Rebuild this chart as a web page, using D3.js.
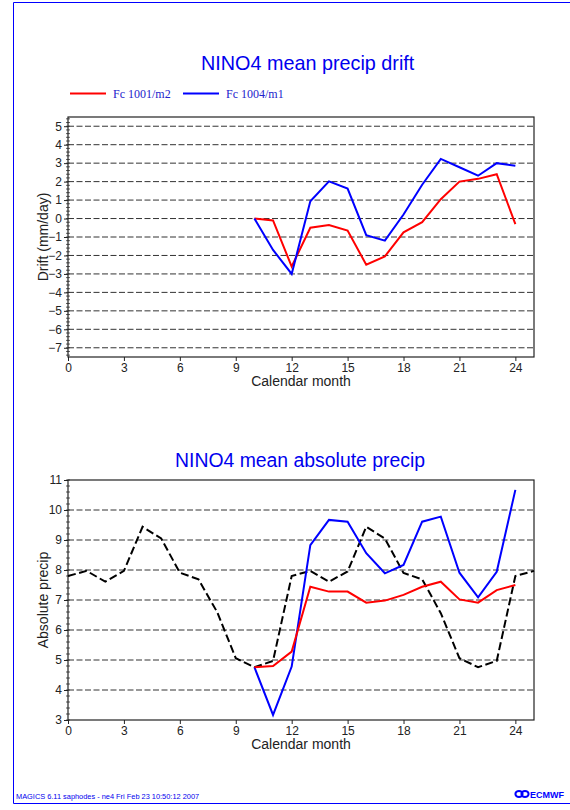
<!DOCTYPE html>
<html><head><meta charset="utf-8">
<script src="https://cdn.jsdelivr.net/npm/d3@7"></script>
<style>body{margin:0;background:#fff;overflow:hidden}text{font-family:"Liberation Sans",Arial,sans-serif}</style>
</head><body><script>
// ---- data ----
const fcMonths = [10,11,12,13,14,15,16,17,18,19,20,21,22,23,24];
const climMonths = [0,1,2,3,4,5,6,7,8,9,10,11,12,13,14,15,16,17,18,19,20,21,22,23,24,25];
const driftFc1001 = [0.0,-0.1,-2.6,-0.5,-0.35,-0.65,-2.5,-2.05,-0.75,-0.2,1.05,2.0,2.15,2.4,-0.3];
const driftFc1004 = [0.0,-1.7,-3.0,0.93,2.01,1.62,-0.9,-1.2,0.22,1.83,3.23,2.78,2.32,3.0,2.86];
const absFc1001 = [4.76,4.8,5.28,7.44,7.28,7.28,6.91,6.98,7.17,7.44,7.61,7.02,6.91,7.33,7.5];
const absFc1004 = [4.76,3.17,4.78,8.83,9.67,9.61,8.56,7.89,8.17,9.61,9.78,7.91,7.09,7.94,10.67];
const absClim = [7.8,7.97,7.61,7.97,9.44,9.05,7.91,7.69,6.6,5.06,4.76,4.97,7.8,7.97,7.61,7.95,9.44,9.05,7.9,7.69,6.56,5.06,4.76,4.97,7.8,7.97];
const xTicks = [0,3,6,9,12,15,18,21,24];
const driftTicks = [-7,-6,-5,-4,-3,-2,-1,0,1,2,3,4,5];
const absTicks = [3,4,5,6,7,8,9,10,11];
const legendLabels = ["Fc 1001/m2","Fc 1004/m1"];
const titles = ["NINO4 mean precip drift","NINO4 mean absolute precip"];
const yTitles = ["Drift (mm/day)","Absolute precip"];
const xTitle = "Calendar month";
const footer = "MAGICS 6.11 saphodes - ne4 Fri Feb 23 10:50:12 2007";

const W = 570, H = 810;
const RED = "#ff0000", BLUE = "#0000ff", TBLUE = "#0000ee";
const svg = d3.select("body").append("svg").attr("width", W).attr("height", H);

// page frame
svg.append("path").attr("d", `M${W+2},2.5H13.5V803.5H${W+2}`).attr("fill","none").attr("stroke", BLUE).attr("stroke-width",1);

function panel(cfg){
  const x = d3.scaleLinear().domain([0,25]).range([68,534]);
  const y = d3.scaleLinear().domain(cfg.ydom).range([cfg.y1, cfg.y0]);
  const g = svg.append("g");
  // grid
  g.selectAll("line.grid").data(cfg.ticks.filter(t => t > cfg.ydom[0] && t < cfg.ydom[1]))
    .join("line").attr("x1", x(0)).attr("x2", x(25)).attr("y1", d => y(d)).attr("y2", d => y(d))
    .attr("stroke", "#333").attr("stroke-width", 1).attr("stroke-dasharray", "6,2.5");
  // minor ticks
  const minor = d3.range(Math.ceil(cfg.ydom[0]*5), Math.floor(cfg.ydom[1]*5)+1).map(v => v/5);
  g.selectAll("line.minor").data(minor).join("line")
    .attr("x1", x(0)-2).attr("x2", x(0)+2).attr("y1", d => y(d)).attr("y2", d => y(d))
    .attr("stroke", "#333").attr("stroke-width", 0.8);
  // axes
  const ax = g.append("g").attr("transform", `translate(${x(0)},0)`)
    .call(d3.axisLeft(y).tickValues(cfg.ticks).tickSize(4).tickPadding(2).tickFormat(d3.format("d")));
  ax.select(".domain").remove();
  ax.selectAll("line").attr("stroke", "#222");
  ax.selectAll("text").attr("font-size", 12).attr("fill", "#222").attr("font-family", "Liberation Sans, Arial");
  const bx = g.append("g").attr("transform", `translate(0,${cfg.y1})`)
    .call(d3.axisBottom(x).tickValues(xTicks).tickSize(4).tickPadding(2));
  bx.select(".domain").remove();
  bx.selectAll("line").attr("stroke", "#222");
  bx.selectAll("text").attr("font-size", 12).attr("fill", "#222").attr("font-family", "Liberation Sans, Arial");
  // frame
  g.append("rect").attr("x", x(0)).attr("y", cfg.y0).attr("width", x(25)-x(0)).attr("height", cfg.y1-cfg.y0)
    .attr("fill", "none").attr("stroke", "#222").attr("stroke-width", 1.2);
  // lines
  const line = d3.line().x(d => x(d[0])).y(d => y(d[1]));
  cfg.series.forEach(s => {
    g.append("path").datum(s.xs.map((m,i) => [m, s.vals[i]])).attr("d", line)
      .attr("fill", "none").attr("stroke", s.color).attr("stroke-width", 2)
      .attr("stroke-dasharray", s.dash || null).attr("stroke-linejoin", "miter");
  });
  // titles
  svg.append("text").attr("x", cfg.titleX).attr("y", cfg.titleY).attr("font-size", cfg.titleSize)
    .attr("fill", TBLUE).text(cfg.title);
  svg.append("text").attr("x", (x(0)+x(25))/2).attr("y", cfg.y1+29).attr("text-anchor","middle")
    .attr("font-size", 14).attr("fill", "#222").text(xTitle);
  svg.append("text").attr("transform", `translate(48,${(cfg.y0+cfg.y1)/2}) rotate(-90)`).attr("text-anchor","middle")
    .attr("font-size", 14).attr("fill", "#222").text(cfg.ytitle);
}

panel({ydom:[-7.5,5.5], y0:117, y1:357, ticks:driftTicks, title:titles[0], titleX:201, titleY:70, titleSize:19.8, ytitle:yTitles[0],
  series:[{xs:fcMonths, vals:driftFc1001, color:RED},{xs:fcMonths, vals:driftFc1004, color:BLUE}]});
panel({ydom:[3,11], y0:480, y1:720, ticks:absTicks, title:titles[1], titleX:175, titleY:467, titleSize:19.4, ytitle:yTitles[1],
  series:[{xs:climMonths, vals:absClim, color:"#000", dash:"8,3.5"},{xs:fcMonths, vals:absFc1004, color:BLUE},{xs:fcMonths, vals:absFc1001, color:RED}]});

// legend
const leg = svg.append("g");
[[70,RED],[183,BLUE]].forEach((p,i) => {
  leg.append("line").attr("x1", p[0]).attr("x2", p[0]+36).attr("y1", 93.5).attr("y2", 93.5).attr("stroke", p[1]).attr("stroke-width", 2);
  leg.append("text").attr("x", p[0]+43).attr("y", 97.5).attr("font-size", 12).attr("fill", "#2222cc")
    .style("font-family", "Liberation Serif, Times New Roman, serif").text(legendLabels[i]);
});

// footer
svg.append("text").attr("x", 16).attr("y", 799).attr("font-size", 7.4).attr("fill", TBLUE).text(footer);
const logo = svg.append("g");
logo.append("ellipse").attr("cx", 519).attr("cy", 794).attr("rx", 3.6).attr("ry", 3).attr("fill","none").attr("stroke",BLUE).attr("stroke-width",2);
logo.append("ellipse").attr("cx", 525).attr("cy", 794).attr("rx", 3.6).attr("ry", 3).attr("fill","none").attr("stroke",BLUE).attr("stroke-width",2);
logo.append("text").attr("x", 530).attr("y", 797.5).attr("font-size", 9).attr("font-weight","bold").attr("fill", BLUE).text("ECMWF");
</script></body></html>
